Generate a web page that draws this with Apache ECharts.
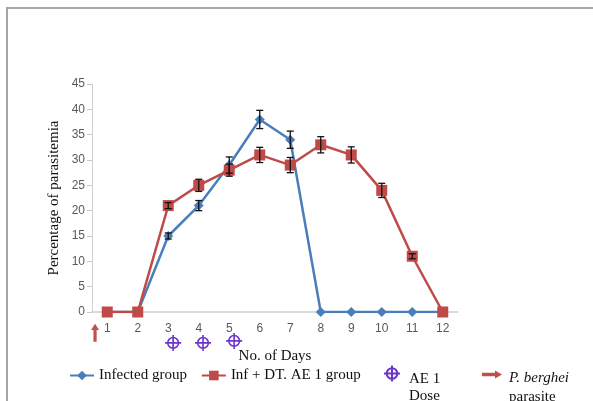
<!DOCTYPE html>
<html>
<head>
<meta charset="utf-8">
<script src="https://cdn.jsdelivr.net/npm/echarts@6/dist/echarts.min.js"></script>
<style>
  html, body { margin: 0; padding: 0; background: #fff; }
  #wrap { position: relative; width: 593px; height: 401px; overflow: hidden; }
  #chart { width: 593px; height: 401px; }
  .frame { position: absolute; left: 6px; top: 7px; width: 700px; height: 500px;
    border-top: 2px solid #a6a6a6; border-left: 2px solid #a6a6a6; pointer-events: none; }
</style>
</head>
<body>
<div id="wrap">
  <div id="chart"></div>
  <div class="frame"></div>
</div>
<script>
const days = ['1', '2', '3', '4', '5', '6', '7', '8', '9', '10', '11', '12']
const infected = [0, 0, 15, 21, 29, 38, 34, 0, 0, 0, 0, 0]
const infectedErr = [0, 0, 0.6, 1, 1.6, 1.8, 1.7, 0, 0, 0, 0, 0]
const treated = [0, 0, 21, 25, 28, 31, 29, 33, 31, 24, 11, 0]
const treatedErr = [0, 0, 0.6, 1.2, 1.2, 1.5, 1.5, 1.6, 1.6, 1.4, 0.5, 0]
// AE 1 dose markers and parasite arrow, drawn under the x axis
const doseDay = [3.16, 4.14, 5.16]
const doseLevel = [-6.1, -6.1, -5.7]
const parasiteDay = [0.6]
const parasiteLevel = [-4.1]

const blue = '#4a7ebb'
const red = '#be4b48'
const purple = '#6a35c8'
const serif = 'Liberation Serif'
const sans = 'Liberation Sans'

const errData = (vals, errs) => {
  const out = []
  for (let i = 0; i < vals.length; i++) {
    if (errs[i] > 0) out.push([i, vals[i] - errs[i], vals[i] + errs[i]])
  }
  return out
}

const errRender = (params, api) => {
  const lo = api.coord([api.value(0), api.value(1)])
  const hi = api.coord([api.value(0), api.value(2)])
  const w = 3.5
  const st = { stroke: '#111', lineWidth: 1.3 }
  return {
    type: 'group',
    children: [
      { type: 'line', shape: { x1: lo[0], y1: lo[1], x2: hi[0], y2: hi[1] }, style: st },
      { type: 'line', shape: { x1: lo[0] - w, y1: lo[1], x2: lo[0] + w, y2: lo[1] }, style: st },
      { type: 'line', shape: { x1: hi[0] - w, y1: hi[1], x2: hi[0] + w, y2: hi[1] }, style: st },
    ],
  }
}

const doseSymbol = 'path://M0,-9 L0,9 M-9,0 L9,0 M6,0 A6,6 0 1 1 -6,0 A6,6 0 1 1 6,0 Z'
const upArrow = 'path://M0,-10 L4.5,-3 L1.8,-3 L1.8,10 L-1.8,10 L-1.8,-3 L-4.5,-3 Z'
const rightArrow = 'path://M10,0 L3,-4 L3,-1.8 L-10,-1.8 L-10,1.8 L3,1.8 L3,4 Z'

const legendText = { fontFamily: serif, fontSize: 15, color: '#111' }

const myChart = echarts.init(document.getElementById('chart'))
const option = {
  animation: false,
  grid: { left: 92, top: 84, right: 135, bottom: 89, containLabel: false },
  xAxis: [
    {
      type: 'category',
      data: days,
      name: 'No. of Days',
      nameLocation: 'middle',
      nameGap: 37,
      nameTextStyle: { fontFamily: serif, fontSize: 15, color: '#111' },
      axisLine: { lineStyle: { color: '#d0d0d0', width: 1.5 } },
      axisTick: { show: false },
      axisLabel: { fontFamily: sans, fontSize: 12, color: '#595959', margin: 11 },
    },
    { type: 'value', min: 0.5, max: 12.5, show: false },
  ],
  yAxis: {
    type: 'value',
    min: 0,
    max: 45,
    interval: 5,
    name: 'Percentage of parasitemia',
    nameLocation: 'middle',
    nameGap: 30,
    nameMoveOverlap: false,
    nameTextStyle: { fontFamily: serif, fontSize: 15, color: '#111' },
    axisLine: { show: true, lineStyle: { color: '#d0d0d0' } },
    axisTick: { show: true, length: 5, lineStyle: { color: '#c8c8c8' } },
    axisLabel: { fontFamily: sans, fontSize: 12, color: '#595959', margin: 7 },
    splitLine: { show: false },
  },
  legend: [
    {
      data: ['Infected group', 'Inf + DT. AE 1 group'],
      left: 64,
      top: 363,
      itemWidth: 24,
      itemHeight: 12,
      itemGap: 14,
      textStyle: legendText,
    },
    {
      data: ['AE 1 Dose'],
      left: 378,
      top: 344,
      itemWidth: 16,
      itemHeight: 16,
      formatter: () => '{e|}\n{a|AE 1}\n{d|Dose}',
      textStyle: {
        ...legendText,
        padding: [0, 0, 0, 4],
        rich: {
          e: { lineHeight: 28 },
          a: { ...legendText, lineHeight: 18 },
          d: { ...legendText, lineHeight: 16 },
        },
      },
    },
    {
      data: [{ name: 'P. berghei parasite', icon: rightArrow }],
      left: 477,
      top: 343,
      itemWidth: 20,
      itemHeight: 8,
      formatter: () => '{e|}\n{i|P. berghei}\n{a|parasite}',
      textStyle: {
        ...legendText,
        padding: [0, 0, 0, 2],
        rich: {
          e: { lineHeight: 28 },
          i: { ...legendText, fontStyle: 'italic', lineHeight: 18 },
          a: { ...legendText, lineHeight: 20 },
        },
      },
    },
  ],
  series: [
    {
      name: 'Infected group',
      type: 'line',
      data: infected,
      symbol: 'diamond',
      symbolSize: 10,
      lineStyle: { color: blue, width: 2.5 },
      itemStyle: { color: blue },
      z: 2,
    },
    {
      name: 'Inf + DT. AE 1 group',
      type: 'line',
      data: treated,
      symbol: 'rect',
      symbolSize: 11,
      lineStyle: { color: red, width: 2.5 },
      itemStyle: { color: red },
      z: 3,
    },
    {
      type: 'custom',
      data: errData(infected, infectedErr),
      renderItem: errRender,
      z: 5,
    },
    {
      type: 'custom',
      data: errData(treated, treatedErr),
      renderItem: errRender,
      z: 5,
    },
    {
      name: 'AE 1 Dose',
      type: 'scatter',
      xAxisIndex: 1,
      clip: false,
      data: doseDay.map((d, i) => [d, doseLevel[i]]),
      symbol: doseSymbol,
      symbolSize: 16,
      itemStyle: { color: 'rgba(0,0,0,0)', borderColor: purple, borderWidth: 1.6, opacity: 1 },
    },
    {
      name: 'P. berghei parasite',
      type: 'scatter',
      xAxisIndex: 1,
      clip: false,
      data: parasiteDay.map((d, i) => [d, parasiteLevel[i]]),
      symbol: upArrow,
      symbolSize: [8, 18],
      itemStyle: { color: '#c0504d', opacity: 1 },
    },
  ],
}
myChart.setOption(option)
</script>
</body>
</html>
